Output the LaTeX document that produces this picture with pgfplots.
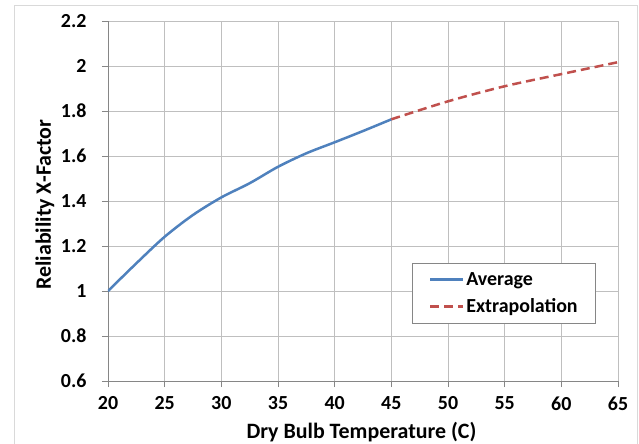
\documentclass[border=0pt]{standalone}
\usepackage{pgfplots}
\pgfplotsset{compat=1.18}
\usepackage{fontspec}
\setmainfont{Carlito}
\definecolor{avgblue}{RGB}{79,129,189}
\definecolor{extred}{RGB}{192,80,77}
\definecolor{gridgray}{RGB}{191,191,191}
\definecolor{axgray}{RGB}{134,134,134}
\definecolor{framegray}{RGB}{217,217,217}
\begin{document}
\begin{tikzpicture}
\useasboundingbox (-108bp,-63bp) rectangle (531bp,381bp);
\draw[framegray, line width=1bp] (-93bp,-80bp) rectangle (529bp,375bp);
\begin{axis}[
  scale only axis, width=510bp, height=360bp,
  xmin=20, xmax=65, ymin=0.6, ymax=2.2,
  xtick={20,25,...,65}, ytick={0.6,0.8,...,2.2},
  grid=major,
  grid style={gridgray, line width=0.8bp},
  axis line style={axgray, line width=0.8bp},
  axis x line*=bottom, axis y line*=left,
  x axis line style={-}, y axis line style={-},
  tick align=outside, major tick length=6bp,
  tick style={axgray, line width=0.8bp},
  /pgf/number format/assume math mode=true,
  tick label style={font=\fontsize{20}{22}\selectfont\bfseries},
  xticklabel style={yshift=-6bp},
  yticklabel style={xshift=-12bp},
  xlabel={Dry Bulb Temperature (C)},
  ylabel={Reliability X-Factor},
  label style={font=\fontsize{22}{24}\selectfont\bfseries},
  x label style={at={(axis description cs:0.497,-0.142)},anchor=center},
  y label style={at={(axis description cs:-0.1235,0.49)},anchor=center},
  legend style={at={(0.597,0.329)}, anchor=north west, draw=axgray,
    line width=0.8bp, font=\fontsize{20}{22}\selectfont\bfseries,
    inner xsep=16bp, inner ysep=7.5bp, row sep=8bp,
    /tikz/every even column/.append style={column sep=0bp}},
  legend image code/.code={\draw[#1] (0bp,0bp) -- (33bp,0bp);},
  legend cell align=left,
]
\addplot[avgblue, line width=2.5bp, smooth] coordinates {
  (20,1.000) (22.5,1.123) (25,1.241) (27.5,1.338) (30,1.416)
  (32.5,1.479) (35,1.552) (37.5,1.612) (40,1.661) (42.5,1.711) (45,1.763)
};
\addlegendentry{Average}
\addplot[extred, line width=2.5bp, dash pattern=on 9bp off 5bp, smooth] coordinates {
  (45,1.763) (50,1.843) (55,1.910) (60,1.964) (65,2.017)
};
\addlegendentry{Extrapolation}
\end{axis}
\end{tikzpicture}
\end{document}
